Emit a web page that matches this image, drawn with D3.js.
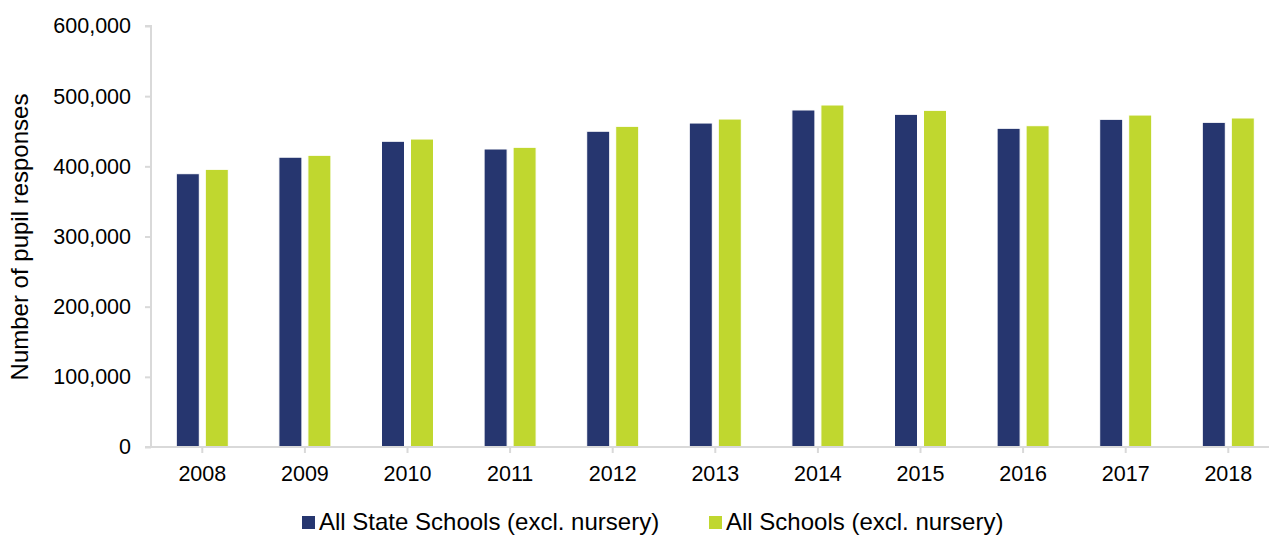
<!DOCTYPE html>
<html><head><meta charset="utf-8">
<script src="https://cdn.jsdelivr.net/npm/d3@7"></script>
<style>
html,body{margin:0;padding:0;background:#fff;}
svg{display:block;font-family:"Liberation Sans",Arial,Helvetica,sans-serif;}
</style></head>
<body>
<svg id="chart" width="1269" height="537"></svg>
<script>
const years = ["2008","2009","2010","2011","2012","2013","2014","2015","2016","2017","2018"];
const seriesNames = ["All State Schools (excl. nursery)","All Schools (excl. nursery)"];
const stateSchools = [389500,413000,435700,424700,450000,461700,480300,474100,454200,467000,462700];
const allSchools = [395700,415700,438900,427100,457000,467400,487400,479800,457900,473100,468900];
const yTicks = [0,100000,200000,300000,400000,500000,600000];
const colors = ["#26366f","#c0d72f"];

const svg = d3.select("#chart");
const x0 = 151, x1 = 1279.6, yBottom = 447, yTop = 26;

const x = d3.scaleBand().domain(years).range([x0, x1]).padding(0);
const bw = x.bandwidth();
const barW = 23, gap = 6, step = barW + gap;
const pi = gap / step;
const po = (bw / step - 2 + pi) / 2;
const xs = d3.scaleBand().domain(seriesNames).range([0, bw]).paddingInner(pi).paddingOuter(po);
const y = d3.scaleLinear().domain([0, 600000]).range([yBottom, yTop]);

const data = years.map((yr, i) => ({year: yr, values: [stateSchools[i], allSchools[i]]}));

// bars
const g = svg.append("g");
g.selectAll("g.cat").data(data).join("g").attr("class","cat")
  .attr("transform", d => `translate(${x(d.year)},0)`)
  .selectAll("rect").data(d => d.values.map((v, j) => ({name: seriesNames[j], v, j})))
  .join("rect")
  .attr("x", d => xs(d.name))
  .attr("width", xs.bandwidth())
  .attr("y", d => y(d.v))
  .attr("height", d => y(0) - y(d.v))
  .attr("fill", d => colors[d.j])
  .attr("stroke", "#ffffff").attr("stroke-width", 1);

// y axis
const yAxis = d3.axisLeft(y).tickValues(yTicks).tickSize(6).tickPadding(14)
  .tickFormat(d3.format(","));
const ya = svg.append("g").attr("transform", `translate(${x0},0)`).call(yAxis);
ya.select(".domain").attr("stroke", "#d9d9d9").attr("stroke-width", 2).attr("d", `M-6,${yTop}H0V${yBottom}`);
ya.selectAll(".tick line").attr("stroke", "#d9d9d9").attr("stroke-width", 2);
ya.selectAll(".tick text").attr("font-size", "21.5px").attr("fill", "#000").attr("font-family", "inherit");

// x axis
const xAxis = d3.axisBottom(x).tickSize(6).tickPadding(13).tickSizeOuter(0);
const xa = svg.append("g").attr("transform", `translate(0,${yBottom})`).call(xAxis);
xa.select(".domain").attr("stroke", "#d9d9d9").attr("stroke-width", 2).attr("d", `M${x0 - 6},0H1269`);
xa.selectAll(".tick line").attr("stroke", "#d9d9d9").attr("stroke-width", 2);
xa.selectAll(".tick text").attr("font-size", "21.5px").attr("fill", "#000").attr("font-family", "inherit");

// y title
svg.append("text").attr("transform", `translate(28,237) rotate(-90)`)
  .attr("text-anchor", "middle").attr("font-size", "24px").attr("fill", "#000")
  .text("Number of pupil responses");

// legend
const legendX = [302, 709];
const lg = svg.append("g").selectAll("g").data(seriesNames).join("g")
  .attr("transform", (d, i) => `translate(${legendX[i]},0)`);
lg.append("rect").attr("x", 0).attr("y", 516).attr("width", 13).attr("height", 13)
  .attr("fill", (d, i) => colors[i]);
lg.append("text").attr("x", 17).attr("y", 530).attr("font-size", "24px").attr("fill", "#000")
  .text(d => d);
</script>
</body></html>
